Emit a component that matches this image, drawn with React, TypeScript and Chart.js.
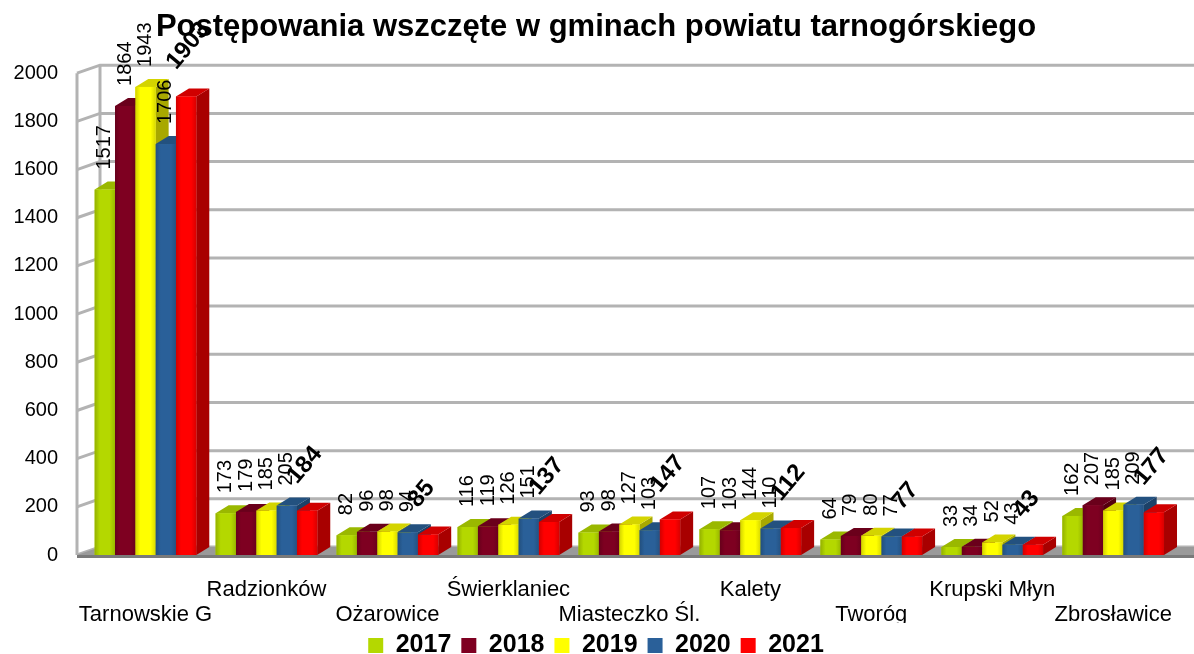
import React, { useEffect, useRef } from 'react';
import { Chart, registerables } from 'chart.js';

Chart.register(...registerables);

const categories = ['Tarnowskie G', 'Radzionków', 'Ożarowice', 'Świerklaniec', 'Miasteczko Śl.', 'Kalety', 'Tworóg', 'Krupski Młyn', 'Zbrosławice'];
const years = ['2017', '2018', '2019', '2020', '2021'];
const values2017 = [1517, 173, 82, 116, 93, 107, 64, 33, 162];
const values2018 = [1864, 179, 96, 119, 98, 103, 79, 34, 207];
const values2019 = [1943, 185, 98, 126, 127, 144, 80, 52, 185];
const values2020 = [1706, 205, 94, 151, 103, 110, 77, 43, 209];
const values2021 = [1903, 184, 85, 137, 147, 112, 77, 43, 177];
const yMin = 0;
const yMax = 2000;
const yStep = 200;
const titleText = 'Postępowania wszczęte w gminach powiatu tarnogórskiego';

const frontColors = ['#b4d800', '#7e0021', '#ffff00', '#2a6099', '#ff0000'];
const sideColors = ['#8a9c00', '#55000f', '#a8a800', '#1c4168', '#a80000'];
const topColors = ['#9ab800', '#6a001b', '#d4d400', '#23517f', '#d00000'];

const FONT = '"Liberation Sans", Arial, sans-serif';

function shade(hex: string, f: number) {
  const n = parseInt(hex.slice(1), 16);
  let r = (n >> 16) & 255, g = (n >> 8) & 255, b = n & 255;
  const t = f < 0 ? 0 : 255;
  const p = Math.abs(f);
  r = Math.round((t - r) * p + r);
  g = Math.round((t - g) * p + g);
  b = Math.round((t - b) * p + b);
  return `rgb(${r},${g},${b})`;
}

const BAR_DX = 13;
const BAR_DY = 8;
const WALL_DX = 23;
const WALL_DY = 8;

const depthPlugin = {
  id: 'depth3d',
  beforeDatasetsDraw(chart: any) {
    const { ctx, chartArea, scales } = chart;
    const { left, bottom } = chartArea;
    const y = scales.y;
    const W = chart.width;
    const x0 = left - 8;
    ctx.save();
    ctx.strokeStyle = '#b3b3b3';
    ctx.lineWidth = 3;
    const topPx = y.getPixelForValue(yMax);
    ctx.beginPath();
    ctx.moveTo(x0, topPx);
    ctx.lineTo(x0, bottom);
    ctx.moveTo(x0 + WALL_DX, topPx - WALL_DY);
    ctx.lineTo(x0 + WALL_DX, bottom - WALL_DY);
    ctx.stroke();
    y.ticks.forEach((t: any) => {
      const py = y.getPixelForValue(t.value);
      ctx.beginPath();
      ctx.moveTo(x0, py);
      ctx.lineTo(x0 + WALL_DX, py - WALL_DY);
      ctx.lineTo(W, py - WALL_DY);
      ctx.stroke();
    });
    // floor
    ctx.fillStyle = '#9a9a9a';
    ctx.beginPath();
    ctx.moveTo(x0, bottom);
    ctx.lineTo(x0 + WALL_DX, bottom - WALL_DY);
    ctx.lineTo(W, bottom - WALL_DY);
    ctx.lineTo(W, bottom);
    ctx.closePath();
    ctx.fill();
    ctx.fillStyle = '#7a7a7a';
    ctx.fillRect(x0, bottom, W - x0, 3);
    ctx.restore();
  },
  afterDatasetsDraw(chart: any) {
    const { ctx } = chart;
    const n = chart.data.labels.length;
    const nd = chart.data.datasets.length;
    ctx.save();
    for (let i = 0; i < n; i++) {
      for (let d = 0; d < nd; d++) {
        const el = chart.getDatasetMeta(d).data[i];
        if (!el) continue;
        const { x, y, base, width } = el.getProps(['x', 'y', 'base', 'width'], true);
        const l = x - width / 2;
        const r = x + width / 2;
        ctx.fillStyle = sideColors[d];
        ctx.beginPath();
        ctx.moveTo(r, y);
        ctx.lineTo(r + BAR_DX, y - BAR_DY);
        ctx.lineTo(r + BAR_DX, base - BAR_DY);
        ctx.lineTo(r, base);
        ctx.closePath();
        ctx.fill();
        ctx.fillStyle = topColors[d];
        ctx.beginPath();
        ctx.moveTo(l, y);
        ctx.lineTo(l + BAR_DX, y - BAR_DY);
        ctx.lineTo(r + BAR_DX, y - BAR_DY);
        ctx.lineTo(r, y);
        ctx.closePath();
        ctx.fill();
        const g = ctx.createLinearGradient(l, 0, r, 0);
        g.addColorStop(0, shade(frontColors[d], -0.18));
        g.addColorStop(0.25, frontColors[d]);
        g.addColorStop(0.75, frontColors[d]);
        g.addColorStop(1, shade(frontColors[d], -0.15));
        ctx.fillStyle = g;
        ctx.fillRect(l, y, width, base - y);
      }
    }
    ctx.fillStyle = '#000';
    for (let d = 0; d < nd; d++) {
      const meta = chart.getDatasetMeta(d);
      const data = chart.data.datasets[d].data;
      meta.data.forEach((el: any, i: number) => {
        const { x, y } = el.getProps(['x', 'y'], true);
        const txt = String(data[i]);
        ctx.save();
        if (d < nd - 1) {
          ctx.font = `20px ${FONT}`;
          ctx.translate(x, y - 20);
          ctx.rotate(-Math.PI / 2);
          ctx.textAlign = 'left';
          ctx.textBaseline = 'middle';
        } else {
          ctx.font = `bold 24px ${FONT}`;
          ctx.translate(x - 10, y - 26);
          ctx.rotate(-50 * Math.PI / 180);
          ctx.textAlign = 'left';
          ctx.textBaseline = 'alphabetic';
        }
        ctx.fillText(txt, 0, 0);
        ctx.restore();
      });
    }
    ctx.restore();
  },
};

export default function App() {
  const ref = useRef<HTMLCanvasElement | null>(null);
  useEffect(() => {
    if (!ref.current) return;
    const series = [values2017, values2018, values2019, values2020, values2021];
    const labels = categories.map((c, i) => (i % 2 === 0 ? ['', c] : [c, '']));
    const chart = new Chart(ref.current, {
      type: 'bar',
      data: {
        labels,
        datasets: years.map((yr, i) => ({
          label: yr,
          data: series[i],
          backgroundColor: frontColors[i],
          borderWidth: 0,
          barPercentage: 1,
          categoryPercentage: 0.84,
        })),
      },
      options: {
        responsive: false,
        animation: false,
        events: [],
        layout: { padding: { left: 0, right: 2, top: 0, bottom: 0 } },
        scales: {
          x: {
            grid: { display: false, drawTicks: false },
            border: { display: false },
            ticks: {
              autoSkip: false,
              maxRotation: 0,
              minRotation: 0,
              padding: 22,
              color: '#000',
              font: { family: FONT, size: 22, lineHeight: 1.14 },
            },
            afterFit: (s: any) => { s.height = 68; },
          },
          y: {
            min: yMin,
            max: yMax,
            grid: { display: false, drawTicks: false },
            border: { display: false },
            ticks: {
              stepSize: yStep,
              padding: 27,
              color: '#000',
              font: { family: FONT, size: 20 },
              callback: (v: any) => String(v),
            },
            afterFit: (s: any) => { s.width = 85; },
          },
        },
        plugins: {
          title: {
            display: true,
            text: titleText,
            color: '#000',
            font: { family: FONT, size: 31, weight: 'bold' },
            padding: { top: 9, bottom: 27 },
          },
          legend: {
            position: 'bottom',
            labels: {
              color: '#000',
              boxWidth: 15,
              boxHeight: 15,
              padding: 10,
              font: { family: FONT, size: 25, weight: 'bold' },
            },
          },
          tooltip: { enabled: false },
        },
      },
      plugins: [depthPlugin],
    } as any);
    return () => chart.destroy();
  }, []);
  return (
    <div style={{ position: 'fixed', left: 0, top: 0, width: 1194, height: 654, overflow: 'hidden', background: '#fff' }}>
      <canvas ref={ref} width={1194} height={668} style={{ display: 'block' }} />
    </div>
  );
}
